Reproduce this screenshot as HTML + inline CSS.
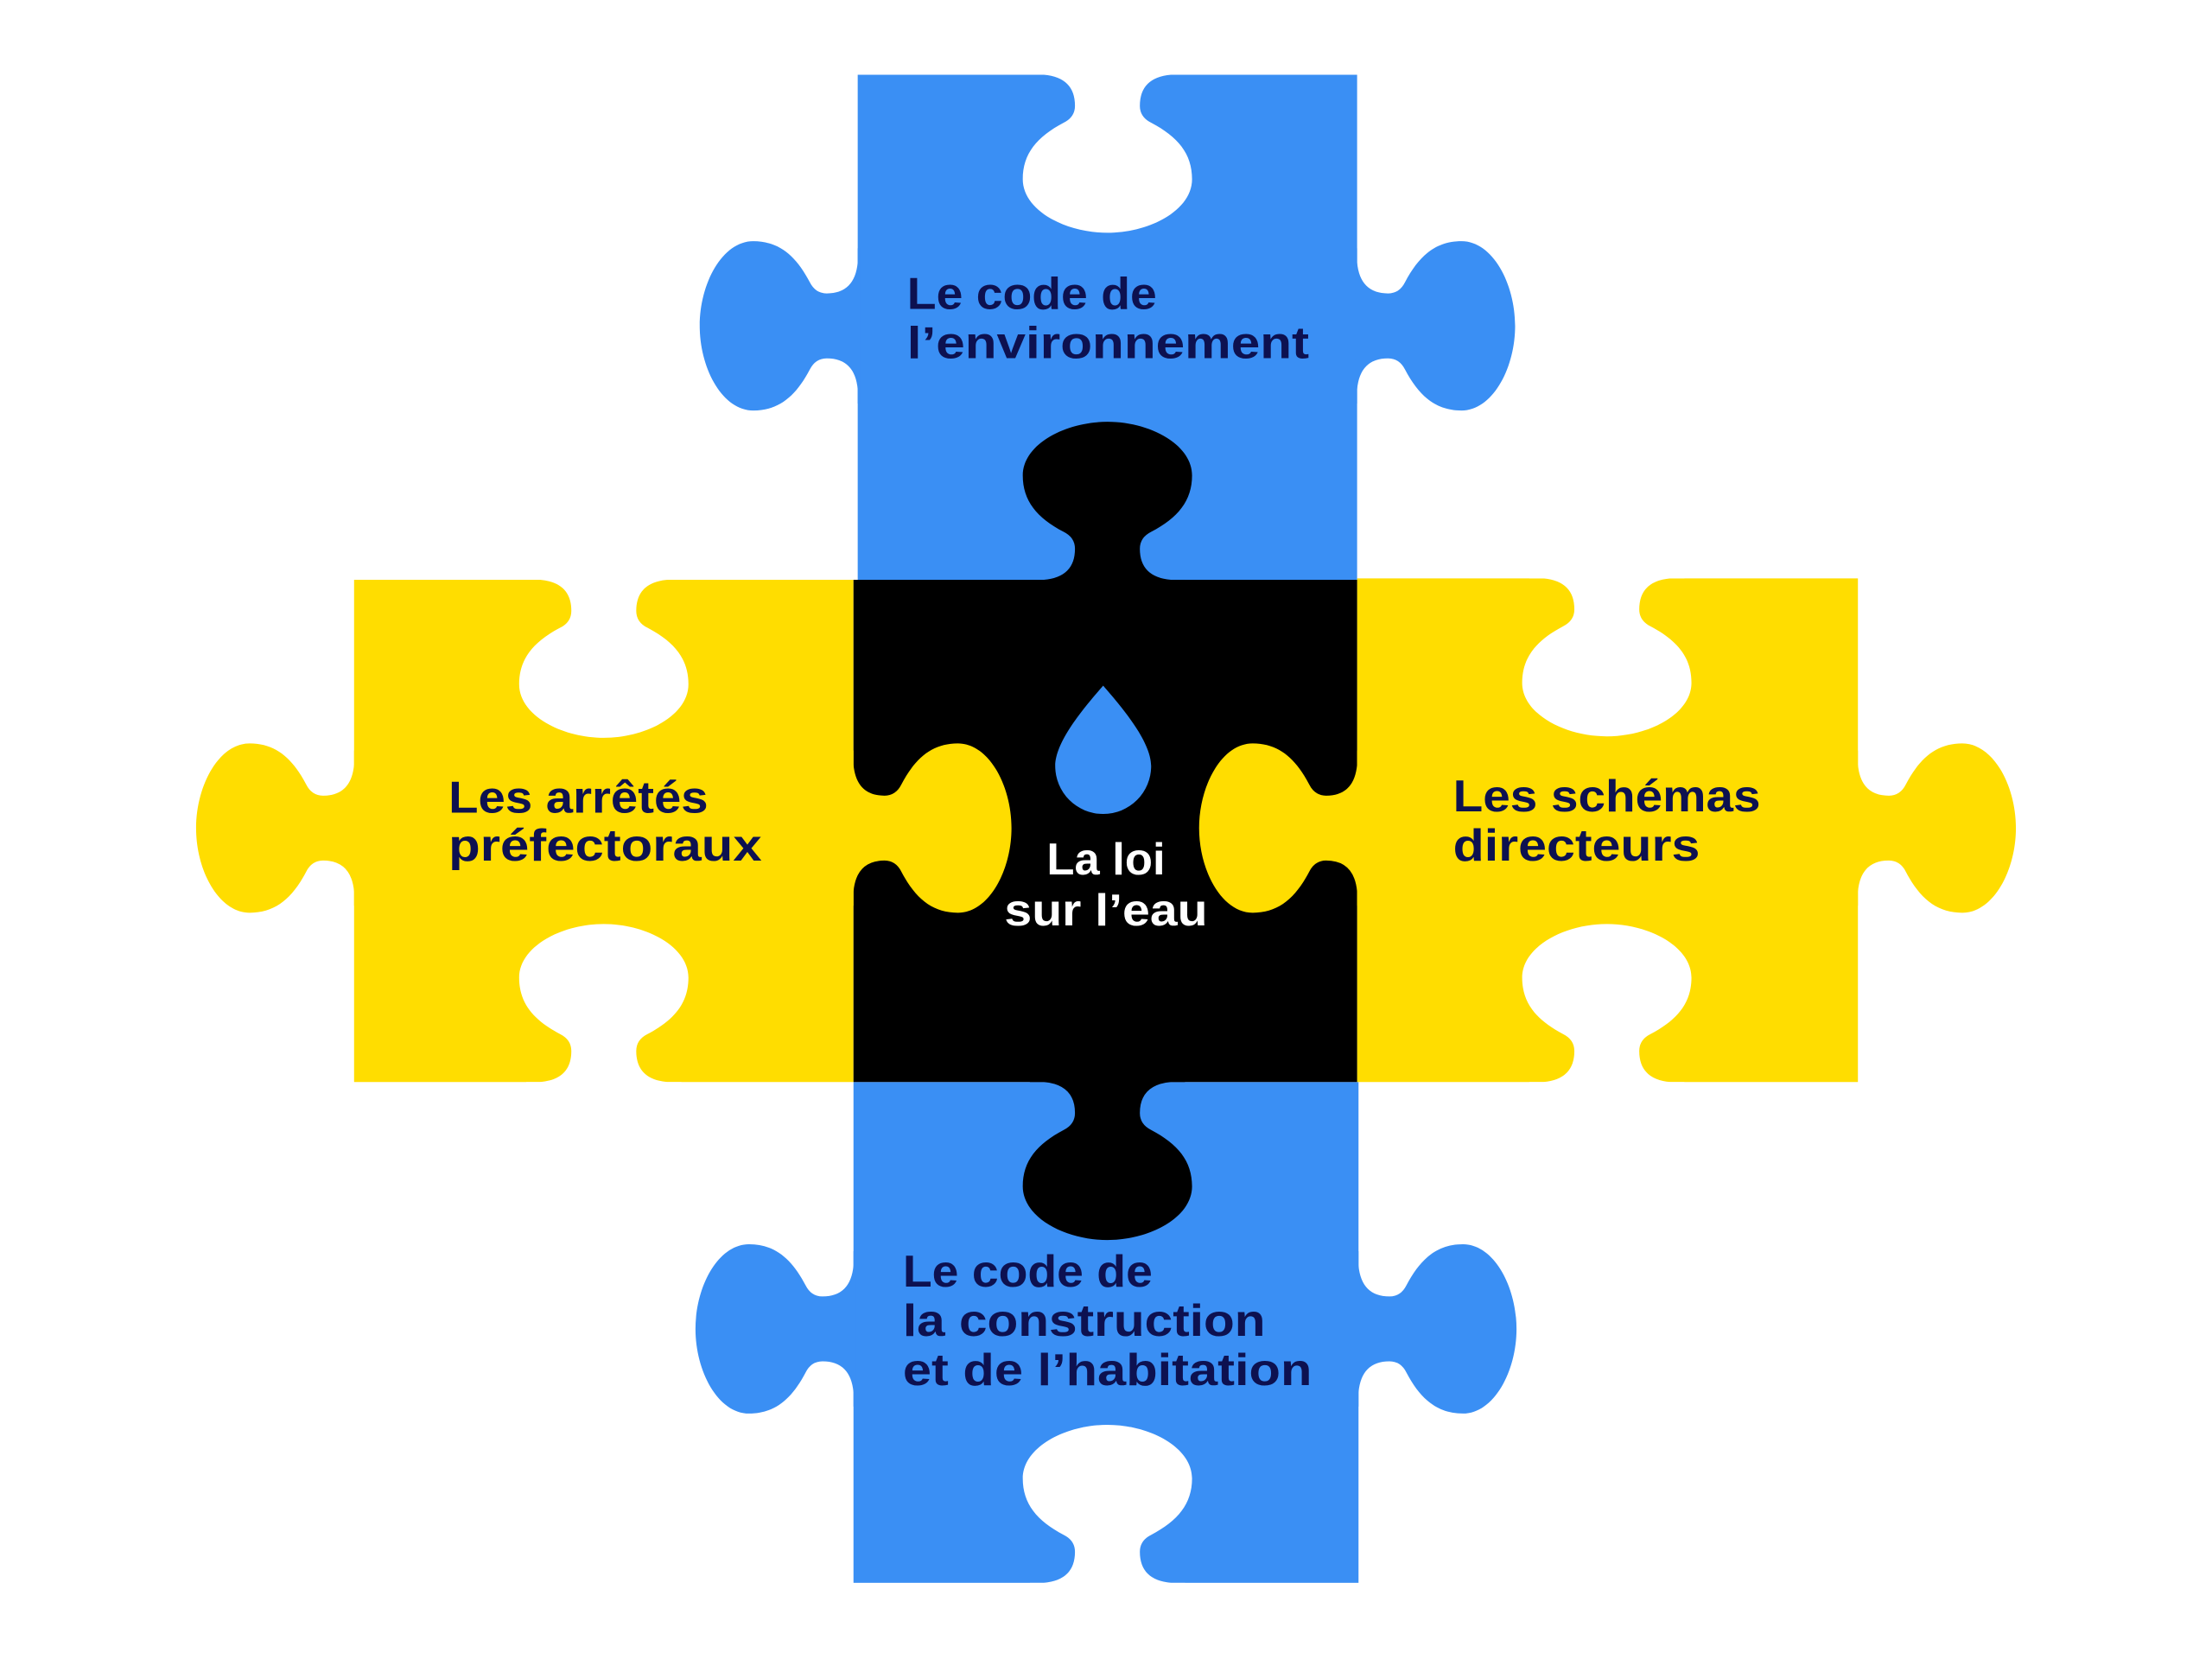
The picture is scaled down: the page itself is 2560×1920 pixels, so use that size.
<!DOCTYPE html>
<html><head><meta charset="utf-8"><style>html,body{margin:0;padding:0;background:#fff}svg{display:block}</style></head>
<body>
<svg width="2560" height="1920" viewBox="0 0 1568 1176" xmlns="http://www.w3.org/2000/svg">
<defs>
<path id="k" d="M -55 -1.5 L 55 -1.5 L 55 0 L 45 0 Q 23 2 23 22 Q 23 30 31 34 C 50 44 60 56 60 74 C 60 96 30 112 0 112 C -30 112 -60 96 -60 74 C -60 56 -50 44 -31 34 Q -23 30 -23 22 Q -23 2 -45 0 L -55 0 Z"/>
</defs>
<rect width="1568" height="1176" fill="#fff"/>
<g fill="#3a8ff4">
<rect x="608" y="53" width="354" height="358"/>
<rect x="605" y="767" width="358" height="355"/>
</g>
<g fill="#ffdd00">
<rect x="251" y="411" width="354" height="356"/>
<rect x="962" y="410" width="355" height="357"/>
</g>
<rect x="605" y="411" width="357" height="356" fill="#000"/>
<g fill="#3a8ff4">
<use href="#k" transform="translate(608,231) rotate(90)"/>
<use href="#k" transform="translate(962,231) rotate(-90)"/>
<use href="#k" transform="translate(605,942) rotate(90)"/>
<use href="#k" transform="translate(963,942) rotate(-90)"/>
</g>
<g fill="#000">
<use href="#k" transform="translate(785,411) rotate(180)"/>
<use href="#k" transform="translate(785,767)"/>
</g>
<g fill="#ffdd00">
<use href="#k" transform="translate(605,587) rotate(-90)"/>
<use href="#k" transform="translate(962,587) rotate(90)"/>
<use href="#k" transform="translate(251,587) rotate(90)"/>
<use href="#k" transform="translate(1317,587) rotate(-90)"/>
</g>
<g fill="#fff">
<use href="#k" transform="translate(785,53)"/>
<use href="#k" transform="translate(785,1122) rotate(180)"/>
<use href="#k" transform="translate(428,411)"/>
<use href="#k" transform="translate(428,767) rotate(180)"/>
<use href="#k" transform="translate(1139,410)"/>
<use href="#k" transform="translate(1139,767) rotate(180)"/>
</g>
<path d="M 782 486 C 770 500 748 525 748 543 A 34 34 0 0 0 816 543 C 816 525 794 500 782 486 Z" fill="#3a8ff4"/>
<g font-family="Liberation Sans, sans-serif" font-weight="bold" font-size="32" fill="#0d1150">
<text x="643" y="219" textLength="177" lengthAdjust="spacingAndGlyphs">Le code de</text>
<text x="643" y="254" textLength="285" lengthAdjust="spacingAndGlyphs">l’environnement</text>
<text x="318" y="576" textLength="184" lengthAdjust="spacingAndGlyphs">Les arrêtés</text>
<text x="318" y="610" textLength="222" lengthAdjust="spacingAndGlyphs">préfectoraux</text>
<text x="1030" y="575" textLength="218" lengthAdjust="spacingAndGlyphs">Les schémas</text>
<text x="1030" y="610" textLength="175" lengthAdjust="spacingAndGlyphs">directeurs</text>
<text x="640" y="912" textLength="177" lengthAdjust="spacingAndGlyphs">Le code de</text>
<text x="640" y="947" textLength="257" lengthAdjust="spacingAndGlyphs">la construction</text>
<text x="640" y="982" textLength="290" lengthAdjust="spacingAndGlyphs">et de l’habitation</text>
<text x="742" y="620" textLength="84" lengthAdjust="spacingAndGlyphs" fill="#fff">La loi</text>
<text x="712" y="656" textLength="144" lengthAdjust="spacingAndGlyphs" fill="#fff">sur l’eau</text>
</g>
</svg>
</body></html>
